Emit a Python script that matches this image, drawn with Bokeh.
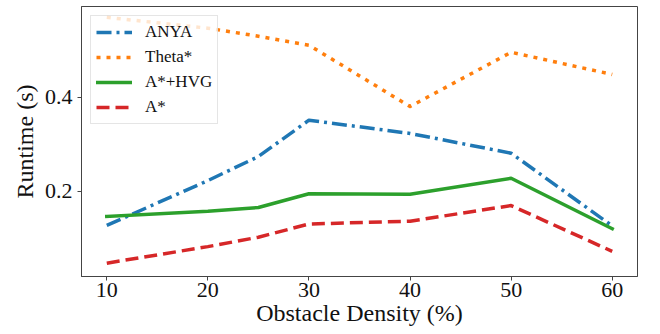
from bokeh.plotting import figure
from bokeh.models import Range1d, FixedTicker, Legend, LegendItem
from bokeh.embed import file_html
from bokeh.resources import INLINE

density = [10, 20, 25, 30, 40, 50, 60]
anya = [0.128, 0.223, 0.274, 0.351, 0.323, 0.281, 0.127]
theta = [0.569, 0.546, 0.529, 0.510, 0.380, 0.495, 0.448]
astar_hvg = [0.147, 0.158, 0.166, 0.195, 0.194, 0.228, 0.121]
astar = [0.048, 0.083, 0.103, 0.131, 0.137, 0.170, 0.073]
x_ticks = [10, 20, 30, 40, 50, 60]
y_ticks = [0.2, 0.4]
series_names = ["ANYA", "Theta*", "A*+HVG", "A*"]

FONT = "Liberation Serif"

p = figure(width=660, height=334, output_backend="svg", toolbar_location=None,
           x_range=Range1d(7.5, 62.5), y_range=Range1d(0.0197, 0.592),
           min_border_left=81, min_border_right=23, min_border_top=6,
           min_border_bottom=58)
p.xgrid.visible = False
p.ygrid.visible = False
p.outline_line_color = "#444444"
p.outline_line_width = 1
p.background_fill_color = "white"
p.border_fill_color = "white"

r1 = p.line(density, anya, line_color="#1f77b4", line_width=3.5,
            line_dash="15 5 3 5", line_join="round")
r2 = p.line(density, theta, line_color="#ff7f0e", line_width=3.5,
            line_dash="4 6", line_join="round")
r3 = p.line(density, astar_hvg, line_color="#2ca02c", line_width=3.5,
            line_join="round", line_cap="square")
r4 = p.line(density, astar, line_color="#d62728", line_width=3.5,
            line_dash="13 6", line_join="round")

for ax in (p.xaxis[0], p.yaxis[0]):
    ax.axis_line_color = "#444444"
    ax.major_tick_line_color = "#444444"
    ax.major_tick_out = 4
    ax.major_tick_in = 0
    ax.minor_tick_line_color = None
    ax.major_label_text_font = FONT
    ax.major_label_text_font_size = "22px"
    ax.major_label_text_color = "#111111"
    ax.axis_label_text_font = FONT
    ax.axis_label_text_font_size = "24px"
    ax.axis_label_text_font_style = "normal"
    ax.axis_label_text_color = "#111111"

p.xaxis.ticker = FixedTicker(ticks=x_ticks)
p.yaxis.ticker = FixedTicker(ticks=y_ticks)
p.xaxis.axis_label = "Obstacle Density (%)"
p.yaxis.axis_label = "Runtime (s)"
p.xaxis.major_label_standoff = 2
p.xaxis.axis_label_standoff = 0
p.yaxis.major_label_standoff = 5
p.yaxis.axis_label_standoff = 4

legend = Legend(items=[LegendItem(label=n, renderers=[r]) for n, r in
                       zip(series_names, [r1, r2, r3, r4])],
                location="top_left",
                label_text_font=FONT, label_text_font_size="17px",
                label_text_color="#111111",
                margin=9, padding=5, spacing=3,
                glyph_width=36, glyph_height=22, label_height=22,
                label_standoff=13,
                border_line_color="#cccccc", border_line_width=1,
                background_fill_alpha=0.8)
p.add_layout(legend)

open("out.html", "w").write(file_html(p, INLINE))
